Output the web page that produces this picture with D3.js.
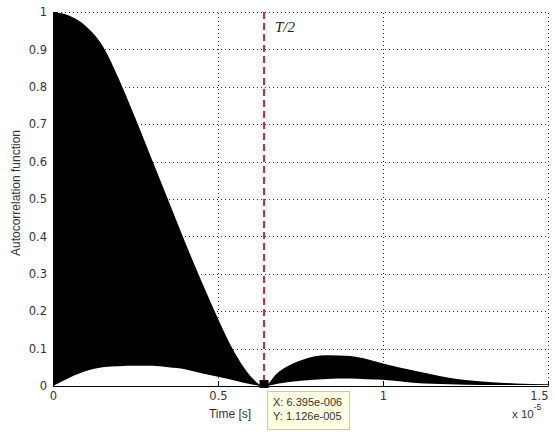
<!DOCTYPE html>
<html>
<head>
<meta charset="utf-8">
<script src="https://d3js.org/d3.v7.min.js"></script>
<style>
  body { margin:0; background:#fff; }
  svg { display:block; font-family:"Liberation Sans", Arial, sans-serif; }
  .grid line { stroke:#333; stroke-width:1; stroke-dasharray:1,3; }
  .axis text { fill:#333; font-size:11.5px; font-family:"DejaVu Sans", sans-serif; }
  .axis path, .axis line { stroke:#000; }
</style>
</head>
<body>
<script>
// time samples (s) and the envelopes of the dense autocorrelation trace
const timeSec = [0, 0.05e-5, 0.1e-5, 0.15e-5, 0.2e-5, 0.25e-5, 0.3e-5, 0.35e-5,
  0.4e-5, 0.45e-5, 0.5e-5, 0.55e-5, 0.6e-5, 0.6395e-5, 0.68e-5, 0.75e-5, 0.83e-5, 0.9e-5,
  0.95e-5, 1.0e-5, 1.1e-5, 1.2e-5, 1.3e-5, 1.4e-5, 1.5e-5];
const upperEnv = [1.0, 0.99, 0.962, 0.91, 0.82, 0.715, 0.605, 0.495,
  0.385, 0.28, 0.18, 0.09, 0.025, 0.0, 0.035, 0.068, 0.082, 0.080,
  0.072, 0.060, 0.040, 0.022, 0.012, 0.007, 0.005];
const lowerEnv = [0, 0.022, 0.04, 0.05, 0.053, 0.054, 0.054, 0.05,
  0.045, 0.034, 0.025, 0.015, 0.005, 0.0, 0.006, 0.014, 0.019, 0.02,
  0.018, 0.017, 0.008, 0.005, 0.003, 0.003, 0.003];

const xTicks = [0, 0.5e-5, 1e-5, 1.5e-5];
const xTickLabels = ["0", "0.5", "1", "1.5"];
const yTicks = [0, 0.1, 0.2, 0.3, 0.4, 0.5, 0.6, 0.7, 0.8, 0.9, 1];

const halfPeriod = 6.395e-6;
const tipX = 6.395e-6, tipY = 1.126e-5;
const tipLines = ["X: 6.395e-006", "Y: 1.126e-005"];

const W = 555, H = 432;
const m = { left: 53, right: 7, top: 12, bottom: 46 };

const svg = d3.select("body").append("svg").attr("width", W).attr("height", H);

const x = d3.scaleLinear().domain([0, 1.5e-5]).range([m.left, W - m.right]);
const y = d3.scaleLinear().domain([0, 1]).range([H - m.bottom, m.top]);

// grid
const grid = svg.append("g").attr("class", "grid");
grid.selectAll("line.gy").data(yTicks.filter(d => d > 0)).enter().append("line")
  .attr("x1", x(0)).attr("x2", x(1.5e-5))
  .attr("y1", d => Math.round(y(d)) + 0.5).attr("y2", d => Math.round(y(d)) + 0.5);
grid.selectAll("line.gx").data(xTicks.filter(d => d > 0)).enter().append("line")
  .attr("y1", y(0)).attr("y2", y(1))
  .attr("x1", d => Math.round(x(d)) + 0.5).attr("x2", d => Math.round(x(d)) + 0.5);

// filled trace
const pts = timeSec.map((t, i) => ({ t, hi: upperEnv[i], lo: lowerEnv[i] }));
const area = d3.area()
  .x(d => x(d.t)).y0(d => y(d.lo)).y1(d => y(d.hi))
  .curve(d3.curveMonotoneX);
svg.append("path").datum(pts).attr("d", area).attr("fill", "#000");

// axes
const xAxis = svg.append("g").attr("class", "axis")
  .attr("transform", `translate(0,${y(0)})`)
  .call(d3.axisBottom(x).tickValues(xTicks).tickFormat((d, i) => xTickLabels[i])
    .tickSizeInner(-5).tickSizeOuter(0).tickPadding(6));
// last label sits inside the figure, like MATLAB does at the edge
xAxis.selectAll(".tick text").filter(d => d === 1.5e-5)
  .attr("text-anchor", "end").attr("x", 0);
svg.append("g").attr("class", "axis")
  .attr("transform", `translate(${x(0)},0)`)
  .call(d3.axisLeft(y).tickValues(yTicks).tickFormat(d3.format("~g"))
    .tickSizeInner(-5).tickSizeOuter(0).tickPadding(6));

// T/2 line
svg.append("line")
  .attr("x1", x(halfPeriod)).attr("x2", x(halfPeriod))
  .attr("y1", y(1)).attr("y2", y(0) - 4)
  .attr("stroke", "#cc2a36").attr("stroke-width", 2).attr("stroke-dasharray", "7,4");
svg.append("text")
  .attr("x", x(halfPeriod) + 11).attr("y", 32)
  .attr("font-family", "'Liberation Serif', 'DejaVu Serif', serif")
  .attr("font-style", "italic").attr("font-size", 15).attr("fill", "#222")
  .text("T/2");

// labels
svg.append("text").attr("x", 230).attr("y", 418).attr("text-anchor", "middle")
  .attr("font-size", 12).attr("fill", "#333").text("Time [s]");
svg.append("text").attr("transform", "translate(20,193) rotate(-90)")
  .attr("text-anchor", "middle").attr("font-size", 12).attr("fill", "#333")
  .text("Autocorrelation function");
const ex = svg.append("text").attr("x", 512).attr("y", 418).attr("font-size", 11.5).attr("fill", "#333");
ex.append("tspan").text("x 10");
ex.append("tspan").attr("dy", -8).attr("font-size", 8.5).text("-5");

// data tip
svg.append("rect")
  .attr("x", x(tipX) - 4.5).attr("y", y(0) - 6).attr("width", 9).attr("height", 8)
  .attr("fill", "#000");
const tip = svg.append("g").attr("transform", `translate(${x(tipX) + 3},${y(0) + 5})`);
tip.append("rect").attr("x", 0.5).attr("y", 0.5).attr("width", 82).attr("height", 38)
  .attr("fill", "#ffffe1").attr("stroke", "#c8c8b0");
tip.selectAll("text").data(tipLines).enter().append("text")
  .attr("x", 6).attr("y", (d, i) => 15 + i * 14)
  .attr("font-size", 11).attr("fill", "#333").text(d => d);
</script>
</body>
</html>
